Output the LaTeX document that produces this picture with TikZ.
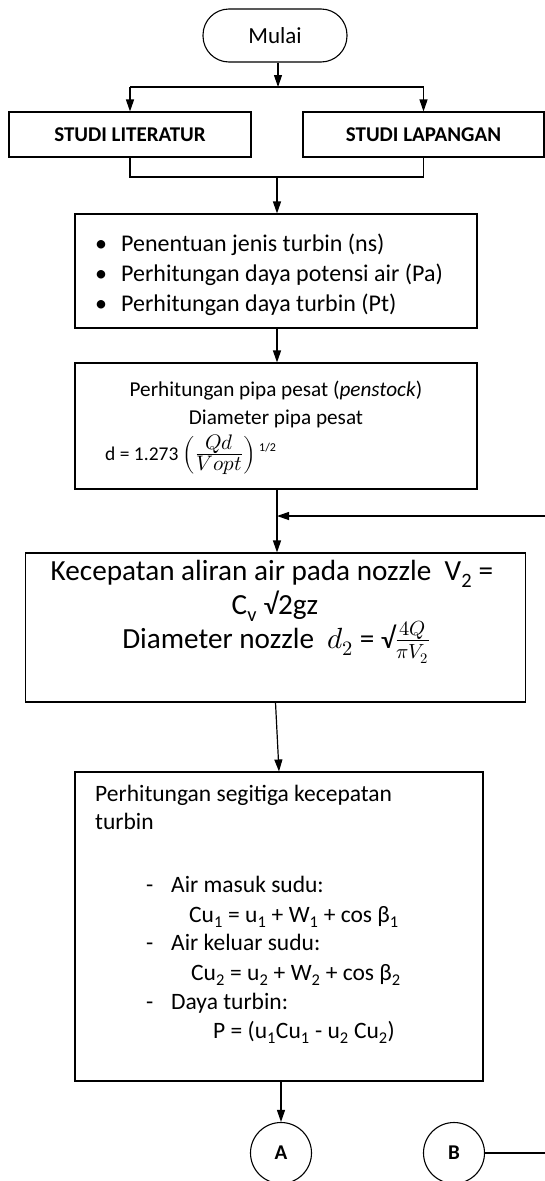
\documentclass[tikz,border=0pt]{standalone}
\usepackage{fontspec}
\usepackage{unicode-math}
\setmainfont{Carlito}
\setmathfont{Latin Modern Math}
\usetikzlibrary{arrows.meta}
\newcommand{\fsz}[1]{\fontsize{#1}{#1}\selectfont}
\begin{document}
\begin{tikzpicture}[x=1pt,y=-1pt,
  box/.style={draw, line width=1.1pt, inner sep=0pt},
  ln/.style={line width=1.2pt},
  arr/.style={ln, -{Triangle[length=12pt,width=8pt]}},
  tl/.style={inner sep=0pt, anchor=base west},
  tc/.style={inner sep=0pt, anchor=base},
]
\useasboundingbox (0,0) rectangle (545,1181);

% nodes
\node[box, rounded corners=26pt, minimum width=144pt, minimum height=53pt, font=\fsz{23}] (mulai) at (275,35.5) {Mulai};
\coordinate (br) at (278,87);
\node[box, minimum width=242pt, minimum height=45pt, font=\bfseries\fsz{21}] (lit) at (130,134.5) {STUDI LITERATUR};
\node[box, minimum width=241pt, minimum height=45pt, font=\bfseries\fsz{21}] (lap) at (423.5,134.5) {STUDI LAPANGAN};
\coordinate (mg) at (277,177);

\node[box, minimum width=402pt, minimum height=114pt] (b3) at (276,271) {};
\node[tc, font=\fsz{24}] (b3p1) at (101,251) {\textbullet};
\node[tc, font=\fsz{24}] (b3p2) at (101,281) {\textbullet};
\node[tc, font=\fsz{24}] (b3p3) at (101,311) {\textbullet};
\node[tl, font=\fsz{24}] (b3a) at (121,251) {Penentuan jenis turbin (ns)};
\node[tl, font=\fsz{24}] (b3b) at (121,281) {Perhitungan daya potensi air (Pa)};
\node[tl, font=\fsz{24}] (b3c) at (121,311) {Perhitungan daya turbin (Pt)};

\node[box, minimum width=402pt, minimum height=126pt] (b4) at (276,426) {};
\node[tc, font=\fsz{21.2}] (b4a) at (276,396) {Perhitungan pipa pesat (\textit{penstock})};
\node[tc, font=\fsz{21.2}] (b4b) at (276,424) {Diameter pipa pesat};
\node[tl, font=\fsz{19.5}] (b4c) at (105,460) {d = 1.273 {\fsz{21}$\left(\frac{\textstyle Qd}{\textstyle Vopt}\right)$}\,\raisebox{9pt}{\fsz{12}1/2}};

\node[box, minimum width=500pt, minimum height=149pt] (b5) at (275.5,627.5) {};
\node[tc, font=\fsz{29.2}] (b5a) at (272,580) {Kecepatan aliran air pada nozzle\ \ V\textsubscript{2} =};
\node[tc, font=\fsz{29.2}] (b5b) at (275,614) {C\textsubscript{v} √2gz};
\node[tc, font=\fsz{29.2}] (b5c) at (276,648) {Diameter nozzle\ \ $d_2$ = √$\frac{4Q}{\pi V_2}$};

\node[box, minimum width=408pt, minimum height=309pt] (b6) at (279,926.5) {};
\node[tl, font=\fsz{23.5}] (b6a) at (95,801) {Perhitungan segitiga kecepatan};
\node[tl, font=\fsz{23.5}] (b6b) at (95,829) {turbin};
\node[tl, font=\fsz{23.5}] (b6d1) at (146,892) {-};
\node[tl, font=\fsz{23.5}] (b6c) at (171,892) {Air masuk sudu:};
\node[tl, font=\fsz{23.5}] (b6e) at (189,922) {Cu\textsubscript{1} = u\textsubscript{1} + W\textsubscript{1} + cos β\textsubscript{1}};
\node[tl, font=\fsz{23.5}] (b6d2) at (146,950) {-};
\node[tl, font=\fsz{23.5}] (b6f) at (171,950) {Air keluar sudu:};
\node[tl, font=\fsz{23.5}] (b6g) at (191,980) {Cu\textsubscript{2} = u\textsubscript{2} + W\textsubscript{2} + cos β\textsubscript{2}};
\node[tl, font=\fsz{23.5}] (b6d3) at (146,1009) {-};
\node[tl, font=\fsz{23.5}] (b6h) at (171,1009) {Daya turbin:};
\node[tl, font=\fsz{23.5}] (b6i) at (213,1038) {P = (u\textsubscript{1}Cu\textsubscript{1} - u\textsubscript{2} Cu\textsubscript{2})};

\node[draw, circle, line width=1.1pt, minimum size=61pt, inner sep=0pt, font=\bfseries\fsz{21}] (A) at (281,1153) {A};
\node[draw, circle, line width=1.1pt, minimum size=61pt, inner sep=0pt, font=\bfseries\fsz{21}] (B) at (454,1153) {B};
\coordinate (fb) at (545,516);
\coordinate (be) at (545,1153);

% connectors
\draw[arr] (mulai.south -| br) -- (br);
\draw[ln] (lit.north |- br) -- (lap.north |- br);
\draw[arr] (lit.north |- br) -- (lit.north);
\draw[arr] (lap.north |- br) -- (lap.north);
\draw[ln] (lit.south) |- (mg) -| (lap.south);
\draw[arr] (mg) -- (mg |- b3.north);
\draw[arr] (b3.south -| mg) -- (b4.north -| mg);
\draw[arr] (b4.south -| mg) -- (b5.north -| mg);
\draw[arr] (fb) -- (fb -| mg);
\draw[arr] (b5.south) -- (b6.north);
\draw[arr] (b6.south -| A) -- (A.north);
\draw[ln] (B.east) -- (be);
\end{tikzpicture}
\end{document}
